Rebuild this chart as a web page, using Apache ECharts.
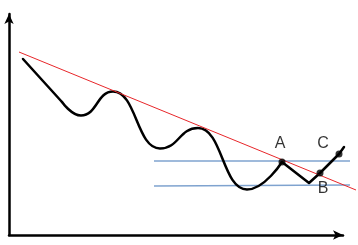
<!DOCTYPE html>
<html><head><meta charset="utf-8">
<script src="https://cdn.jsdelivr.net/npm/echarts@6/dist/echarts.min.js"></script>
<style>html,body{margin:0;padding:0;background:#fff}#c{width:358px;height:245px}</style>
</head><body><div id="c"></div>
<script>
// Price curve: straight opening leg, in chart units
const headX = [14, 53];
const headY = [176, 133];
// Price curve (smooth part: turning points up to A)
const curveX = [53, 72, 104, 151, 189, 238, 273];
const curveY = [133, 119.5, 143.5, 86.5, 107, 45.5, 73];
// Straight tail after A
const tailX = [273, 300, 311, 330, 335];
const tailY = [73, 52, 62, 81, 88];
// Marked points
const ptNames = ['A', 'B', 'C'];
const ptX = [273, 311, 330];
const ptY = [73, 62, 81];
// Red trend line
const trendX = [10, 347];
const trendY = [183, 45];
// Blue horizontal levels
const levelX = [145, 341];
const levelUpper = [74, 74];
const levelLower = [49, 50];

const pairs = (xs, ys) => xs.map((x, i) => [x, ys[i]]);
const labelOffsets = {A: [-2, -18], B: [3, 16], C: [-16, -10]};

const hiddenAxis = (extra) => Object.assign({
  type: 'value', axisLine: {show: false}, axisTick: {show: false},
  axisLabel: {show: false}, splitLine: {show: false}
}, extra);
const arrowLine = {show: true, symbol: ['none', 'arrow'], symbolSize: [7, 10], lineStyle: {color: '#000', width: 2.5}};
const blackLine = {color: '#000', width: 2.5, cap: 'round', join: 'round'};

const chart = echarts.init(document.getElementById('c'), null, {renderer: 'canvas'});
chart.setOption({
  animation: false,
  backgroundColor: '#fff',
  grid: [
    {left: 9, top: 14, right: 15, bottom: 10},
    {left: 9, top: 14, right: 2, bottom: 10}
  ],
  xAxis: [
    hiddenAxis({gridIndex: 0, min: 0, max: 334, axisLine: arrowLine}),
    hiddenAxis({gridIndex: 1, min: 0, max: 347})
  ],
  yAxis: [
    hiddenAxis({gridIndex: 0, min: 0, max: 221, axisLine: arrowLine}),
    hiddenAxis({gridIndex: 1, min: 0, max: 221})
  ],
  series: [
    {type: 'line', xAxisIndex: 1, yAxisIndex: 1, data: pairs(levelX, levelUpper), showSymbol: false, lineStyle: {color: '#7fa3cf', width: 1.3}, z: 1},
    {type: 'line', xAxisIndex: 1, yAxisIndex: 1, data: pairs(levelX, levelLower), showSymbol: false, lineStyle: {color: '#7fa3cf', width: 1.3}, z: 1},
    {type: 'line', xAxisIndex: 1, yAxisIndex: 1, data: pairs(headX, headY), showSymbol: false, lineStyle: blackLine, z: 3},
    {type: 'line', xAxisIndex: 1, yAxisIndex: 1, data: pairs(curveX, curveY), smooth: 0.5, smoothMonotone: 'x', showSymbol: false, lineStyle: blackLine, z: 3},
    {type: 'line', xAxisIndex: 1, yAxisIndex: 1, data: pairs(tailX, tailY), showSymbol: false, lineStyle: blackLine, z: 3},
    {type: 'line', xAxisIndex: 1, yAxisIndex: 1, data: pairs(trendX, trendY), showSymbol: false, lineStyle: {color: '#e8262a', width: 1}, z: 4},
    {type: 'scatter', xAxisIndex: 1, yAxisIndex: 1, z: 5,
      data: ptNames.map((n, i) => ({name: n, value: [ptX[i], ptY[i]],
        label: {position: 'inside', offset: labelOffsets[n]}})),
      symbolSize: 7, itemStyle: {color: '#000'},
      label: {show: true, formatter: '{b}', color: '#000', fontSize: 16, fontFamily: 'Liberation Sans, Arial, sans-serif'}
    }
  ]
});
</script></body></html>
